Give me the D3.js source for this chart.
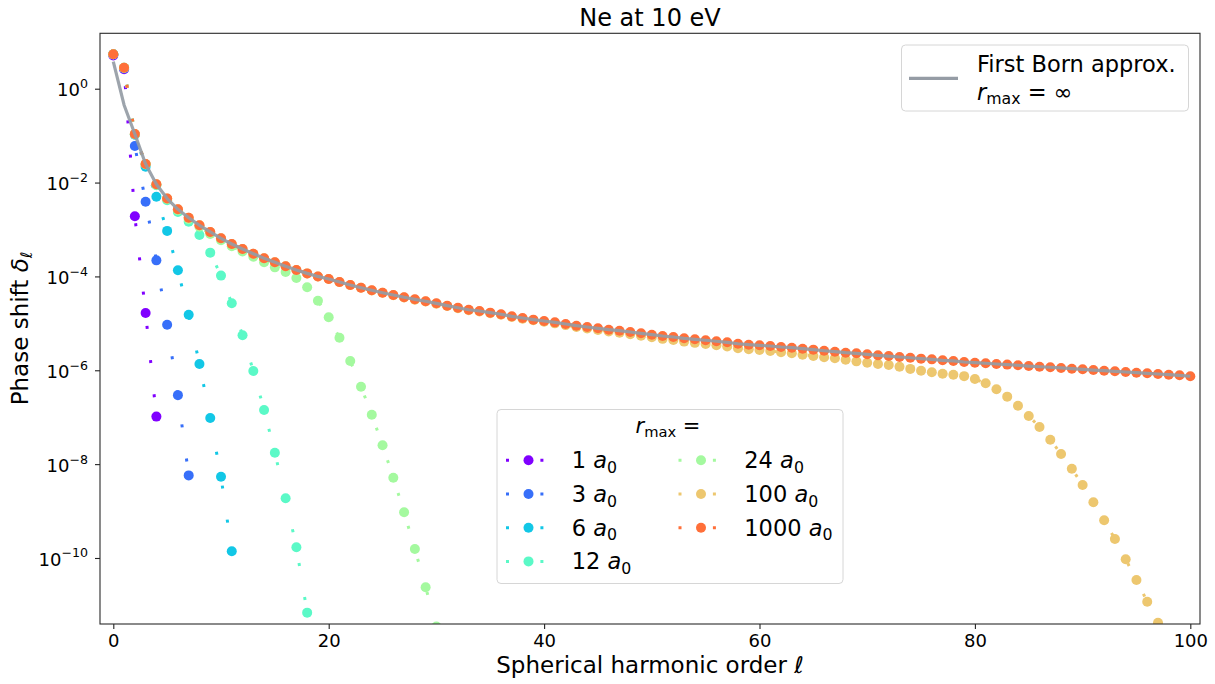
<!DOCTYPE html>
<html>
<head>
<meta charset="utf-8">
<script src="https://cdn.jsdelivr.net/npm/d3@7"></script>
<style>
  html, body { margin: 0; padding: 0; background: #ffffff; }
  svg { display: block; font-family: "DejaVu Sans", sans-serif; }
</style>
</head>
<body>
<svg id="chart" width="1215" height="684"></svg>
<script>
// ---- data: phase shifts δℓ for Ne at 10 eV, indexed by ℓ = 0, 1, 2, ... ----
const radiusLabels = ["1", "3", "6", "12", "24", "100", "1000"];
const radiusColors = ["#8000ff", "#376ff9", "#12c7e6", "#5bf9c7", "#a4f99f", "#edc76f", "#ff6f39"];

const phaseR1 = [5.13, 2.60, 1.92e-3, 1.66e-5, 1.03e-7];

const phaseR3 = [5.39, 2.70, 6.00e-2, 3.91e-3, 2.20e-4, 9.35e-6, 2.95e-7, 5.75e-9];

const phaseR6 = [5.40, 2.77, 1.04e-1, 2.18e-2, 5.00e-3, 9.33e-4, 1.35e-4, 1.53e-5, 1.36e-6, 9.62e-8,
  5.37e-9, 1.39e-10];

const phaseR12 = [5.41, 2.79, 1.06e-1, 2.42e-2, 8.74e-3, 4.20e-3, 2.36e-3, 1.47e-3, 7.64e-4, 3.21e-4,
  1.04e-4, 2.67e-5, 5.56e-6, 9.66e-7, 1.43e-7, 1.75e-8, 1.87e-9, 1.69e-10, 6.84e-12];

const phaseR24 = [5.41, 2.80, 1.07e-1, 2.45e-2, 9.00e-3, 4.45e-3, 2.56e-3, 1.65e-3, 1.14e-3, 8.02e-4,
  5.88e-4, 4.38e-4, 3.39e-4, 2.63e-4, 2.00e-4, 1.56e-4, 1.24e-4, 9.25e-5, 5.86e-5, 3.04e-5,
  1.35e-5, 4.94e-6, 1.58e-6, 4.47e-7, 1.13e-7, 2.52e-8, 5.14e-9, 9.42e-10, 1.56e-10, 2.38e-11,
  3.47e-12];

const phaseR100 = [5.41, 2.80, 1.08e-1, 2.48e-2, 9.18e-3, 4.57e-3, 2.69e-3, 1.78e-3, 1.23e-3, 8.85e-4,
  6.49e-4, 4.91e-4, 3.84e-4, 3.05e-4, 2.43e-4, 2.00e-4, 1.64e-4, 1.37e-4, 1.16e-4, 1.00e-4,
  8.78e-5, 7.57e-5, 6.53e-5, 5.72e-5, 5.03e-5, 4.47e-5, 3.96e-5, 3.54e-5, 3.20e-5, 2.91e-5,
  2.63e-5, 2.34e-5, 2.11e-5, 1.91e-5, 1.79e-5, 1.65e-5, 1.52e-5, 1.37e-5, 1.26e-5, 1.16e-5,
  1.08e-5, 1.00e-5, 9.18e-6, 8.38e-6, 7.79e-6, 7.23e-6, 6.71e-6, 6.32e-6, 5.88e-6, 5.45e-6,
  5.04e-6, 4.67e-6, 4.40e-6, 4.08e-6, 3.84e-6, 3.62e-6, 3.40e-6, 3.20e-6, 2.96e-6, 2.81e-6,
  2.70e-6, 2.58e-6, 2.42e-6, 2.30e-6, 2.15e-6, 2.01e-6, 1.89e-6, 1.80e-6, 1.68e-6, 1.55e-6,
  1.45e-6, 1.36e-6, 1.29e-6, 1.19e-6, 1.07e-6, 9.79e-7, 9.06e-7, 8.45e-7, 8.05e-7, 7.50e-7,
  6.52e-7, 5.27e-7, 3.94e-7, 2.74e-7, 1.76e-7, 1.06e-7, 6.18e-8, 3.32e-8, 1.64e-8, 8.00e-9,
  3.60e-9, 1.54e-9, 6.35e-10, 2.54e-10, 9.38e-11, 3.40e-11, 1.17e-11, 4.17e-12];

const phaseR1000 = [5.41, 2.80, 1.08e-1, 2.48e-2, 9.18e-3, 4.57e-3, 2.69e-3, 1.78e-3, 1.23e-3, 8.85e-4,
  6.49e-4, 4.91e-4, 3.84e-4, 3.05e-4, 2.43e-4, 2.00e-4, 1.64e-4, 1.37e-4, 1.16e-4, 1.00e-4,
  8.81e-5, 7.60e-5, 6.56e-5, 5.75e-5, 5.06e-5, 4.50e-5, 4.02e-5, 3.59e-5, 3.25e-5, 2.95e-5,
  2.67e-5, 2.38e-5, 2.15e-5, 1.95e-5, 1.83e-5, 1.69e-5, 1.56e-5, 1.41e-5, 1.30e-5, 1.20e-5,
  1.12e-5, 1.05e-5, 9.68e-6, 8.91e-6, 8.36e-6, 7.83e-6, 7.33e-6, 6.98e-6, 6.55e-6, 6.14e-6,
  5.73e-6, 5.37e-6, 5.12e-6, 4.80e-6, 4.57e-6, 4.36e-6, 4.15e-6, 3.94e-6, 3.68e-6, 3.51e-6,
  3.40e-6, 3.29e-6, 3.13e-6, 3.03e-6, 2.88e-6, 2.75e-6, 2.61e-6, 2.49e-6, 2.37e-6, 2.30e-6,
  2.19e-6, 2.08e-6, 2.01e-6, 1.92e-6, 1.85e-6, 1.77e-6, 1.71e-6, 1.63e-6, 1.58e-6, 1.50e-6,
  1.45e-6, 1.41e-6, 1.36e-6, 1.32e-6, 1.28e-6, 1.23e-6, 1.19e-6, 1.16e-6, 1.12e-6, 1.08e-6,
  1.05e-6, 1.01e-6, 9.79e-7, 9.51e-7, 9.18e-7, 8.87e-7, 8.63e-7, 8.34e-7, 8.05e-7, 7.82e-7,
  7.45e-7];

// First Born approximation, r_max = ∞
const phaseBorn = [3.76, 4.50e-1, 1.08e-1, 2.48e-2, 9.18e-3, 4.57e-3, 2.69e-3, 1.78e-3, 1.23e-3, 8.85e-4,
  6.49e-4, 4.91e-4, 3.84e-4, 3.05e-4, 2.43e-4, 2.00e-4, 1.64e-4, 1.37e-4, 1.16e-4, 1.00e-4,
  8.81e-5, 7.60e-5, 6.56e-5, 5.75e-5, 5.06e-5, 4.50e-5, 4.02e-5, 3.59e-5, 3.25e-5, 2.95e-5,
  2.67e-5, 2.38e-5, 2.15e-5, 1.95e-5, 1.83e-5, 1.69e-5, 1.56e-5, 1.41e-5, 1.30e-5, 1.20e-5,
  1.12e-5, 1.05e-5, 9.68e-6, 8.91e-6, 8.36e-6, 7.83e-6, 7.33e-6, 6.98e-6, 6.55e-6, 6.14e-6,
  5.73e-6, 5.37e-6, 5.12e-6, 4.80e-6, 4.57e-6, 4.36e-6, 4.15e-6, 3.94e-6, 3.68e-6, 3.51e-6,
  3.40e-6, 3.29e-6, 3.13e-6, 3.03e-6, 2.88e-6, 2.75e-6, 2.61e-6, 2.49e-6, 2.37e-6, 2.30e-6,
  2.19e-6, 2.08e-6, 2.01e-6, 1.92e-6, 1.85e-6, 1.77e-6, 1.71e-6, 1.63e-6, 1.58e-6, 1.50e-6,
  1.45e-6, 1.41e-6, 1.36e-6, 1.32e-6, 1.28e-6, 1.23e-6, 1.19e-6, 1.16e-6, 1.12e-6, 1.08e-6,
  1.05e-6, 1.01e-6, 9.79e-7, 9.51e-7, 9.18e-7, 8.87e-7, 8.63e-7, 8.34e-7, 8.05e-7, 7.82e-7,
  7.45e-7];

const xTickValues = [0, 20, 40, 60, 80, 100];
const yTickExponents = [0, -2, -4, -6, -8, -10];

const phaseSeries = [phaseR1, phaseR3, phaseR6, phaseR12, phaseR24, phaseR100, phaseR1000];

// ---- layout ----
const frame = { left: 100, right: 1200, top: 33.3, bottom: 624 };
const fontMain = "DejaVu Sans";

const svg = d3.select("#chart");

const x = d3.scaleLinear().domain([-1.235, 100.9]).range([frame.left, frame.right]);
const y = d3.scaleLog().domain([3.92e-12, 15.16]).range([frame.bottom, frame.top]);

svg.append("defs").append("clipPath").attr("id", "plotArea")
  .append("rect")
  .attr("x", frame.left).attr("y", frame.top)
  .attr("width", frame.right - frame.left).attr("height", frame.bottom - frame.top);

const dataLayer = svg.append("g").attr("clip-path", "url(#plotArea)");

const linePath = d3.line().x(d => x(d[0])).y(d => y(d[1]));

// dotted connecting line + circle markers for each r_max
phaseSeries.forEach((vals, k) => {
  const pts = vals.map((v, l) => [l, v]);
  const g = dataLayer.append("g").attr("class", "series");
  g.append("path")
    .attr("d", linePath(pts))
    .attr("fill", "none")
    .attr("stroke", radiusColors[k])
    .attr("stroke-width", 3)
    .attr("stroke-dasharray", "3 31.4");
  g.selectAll("circle").data(pts).join("circle")
    .attr("cx", d => x(d[0]))
    .attr("cy", d => y(d[1]))
    .attr("r", 5)
    .attr("fill", radiusColors[k]);
});

// Born approximation curve on top
const bornColor = "#959ca5";
dataLayer.append("path")
  .attr("d", linePath(phaseBorn.map((v, l) => [l, v])))
  .attr("fill", "none")
  .attr("stroke", bornColor)
  .attr("stroke-opacity", 0.92)
  .attr("stroke-width", 3.2)
  .attr("stroke-linejoin", "round");

// ---- axes ----
const xAxis = d3.axisBottom(x).tickValues(xTickValues).tickSize(5).tickPadding(5);
const xg = svg.append("g").attr("transform", `translate(0,${frame.bottom})`).call(xAxis);
xg.select(".domain").remove();
xg.selectAll(".tick line").attr("stroke", "#222").attr("stroke-width", 1.1);
xg.selectAll(".tick text").attr("font-family", fontMain).attr("font-size", 18).attr("fill", "#000");

const yAxis = d3.axisLeft(y).tickValues(yTickExponents.map(e => Math.pow(10, e))).tickSize(5).tickPadding(7);
const yg = svg.append("g").attr("transform", `translate(${frame.left},0)`).call(yAxis);
yg.select(".domain").remove();
yg.selectAll(".tick line").attr("stroke", "#222").attr("stroke-width", 1.1);
yg.selectAll(".tick text").each(function (d) {
  const e = Math.round(Math.log10(d));
  const t = d3.select(this).text(null)
    .attr("font-family", fontMain).attr("font-size", 18).attr("fill", "#000")
    .attr("dy", null).attr("y", 7.2);
  t.append("tspan").text("10");
  t.append("tspan").attr("font-size", 12.6).attr("dy", -8.2)
    .text(e < 0 ? "\u2212" + Math.abs(e) : String(e));
});

// frame
svg.append("rect")
  .attr("x", frame.left).attr("y", frame.top)
  .attr("width", frame.right - frame.left).attr("height", frame.bottom - frame.top)
  .attr("fill", "none").attr("stroke", "#2a2a2a").attr("stroke-width", 1.1);

// ---- titles ----
svg.append("text")
  .attr("x", 650).attr("y", 26)
  .attr("text-anchor", "middle")
  .attr("font-family", fontMain).attr("font-size", 24).attr("fill", "#000")
  .text("Ne at 10 eV");

const xLabel = svg.append("text")
  .attr("x", 650).attr("y", 673)
  .attr("text-anchor", "middle")
  .attr("font-family", fontMain).attr("font-size", 23).attr("fill", "#000");
xLabel.append("tspan").text("Spherical harmonic order ");
xLabel.append("tspan").attr("font-style", "italic").text("\u2113");

const yLabel = svg.append("text")
  .attr("transform", "translate(28,328.5) rotate(-90)")
  .attr("text-anchor", "middle")
  .attr("font-family", fontMain).attr("font-size", 23).attr("fill", "#000");
yLabel.append("tspan").text("Phase shift ");
yLabel.append("tspan").attr("font-style", "italic").text("\u03b4");
yLabel.append("tspan").attr("font-style", "italic").attr("font-size", 16).attr("dy", 4).text("\u2113");

// ---- legends ----
function legendBox(x0, y0, w, h) {
  svg.append("rect")
    .attr("x", x0).attr("y", y0).attr("width", w).attr("height", h)
    .attr("rx", 4).attr("ry", 4)
    .attr("fill", "#ffffff").attr("fill-opacity", 0.8)
    .attr("stroke", "#d6d6d6").attr("stroke-width", 1);
}

function rMaxText(sel, fs) {
  sel.append("tspan").attr("font-style", "italic").text("r");
  sel.append("tspan").attr("font-size", fs * 0.7).attr("dy", fs * 0.2).text("max");
  sel.append("tspan").attr("dy", -fs * 0.2).text(" =");
}

// Born legend (upper right)
legendBox(901.5, 45, 287, 66);
svg.append("line")
  .attr("x1", 909).attr("x2", 958).attr("y1", 78.3).attr("y2", 78.3)
  .attr("stroke", bornColor).attr("stroke-width", 3.2);
svg.append("text")
  .attr("x", 977).attr("y", 71.5)
  .attr("font-family", fontMain).attr("font-size", 22.5).attr("fill", "#000")
  .text("First Born approx.");
const bornSub = svg.append("text")
  .attr("x", 977).attr("y", 99.5)
  .attr("font-family", fontMain).attr("font-size", 22.5).attr("fill", "#000");
rMaxText(bornSub, 22.5);
bornSub.append("tspan").text(" \u221e");

// r_max legend (centre)
legendBox(497, 409.5, 346, 174);
const legTitle = svg.append("text")
  .attr("x", 668).attr("y", 433)
  .attr("text-anchor", "middle")
  .attr("font-family", fontMain).attr("font-size", 21).attr("fill", "#000");
rMaxText(legTitle, 21);

const rowCenters = [460.3, 494, 527.7, 561.4];
const columns = [
  { x1: 506, x2: 551, text: 571.7 },
  { x1: 678.5, x2: 723.5, text: 744.3 }
];
radiusLabels.forEach((lab, k) => {
  const col = columns[k < 4 ? 0 : 1];
  const cy = rowCenters[k < 4 ? k : k - 4];
  const g = svg.append("g");
  g.append("line")
    .attr("x1", col.x1).attr("x2", col.x2).attr("y1", cy).attr("y2", cy)
    .attr("stroke", radiusColors[k]).attr("stroke-width", 3)
    .attr("stroke-dasharray", "3 31.4");
  g.append("circle")
    .attr("cx", (col.x1 + col.x2) / 2).attr("cy", cy).attr("r", 5)
    .attr("fill", radiusColors[k]);
  const t = g.append("text")
    .attr("x", col.text).attr("y", cy + 8)
    .attr("font-family", fontMain).attr("font-size", 22.5).attr("fill", "#000");
  t.append("tspan").text(lab + " ");
  t.append("tspan").attr("font-style", "italic").text("a");
  t.append("tspan").attr("font-size", 15.75).attr("dy", 4.5).text("0");
});
</script>
</body>
</html>
